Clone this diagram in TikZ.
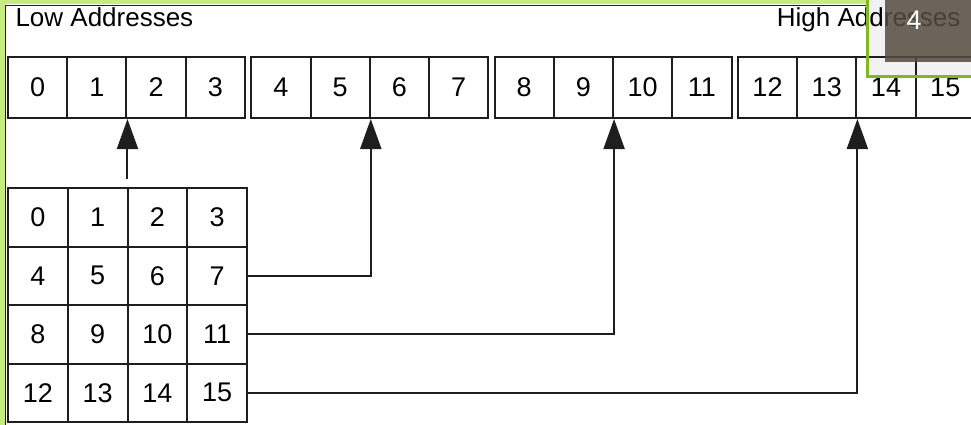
\documentclass[tikz,border=0pt]{standalone}
\usepackage{fontspec}
\setmainfont{Liberation Sans}
\usetikzlibrary{arrows.meta}
\definecolor{ink}{HTML}{1E1E1E}
\definecolor{lime}{HTML}{C6EC7E}
\definecolor{leaf}{HTML}{80B820}
\definecolor{mist}{HTML}{F2F2F2}
\definecolor{umber}{HTML}{564C3F}

\begin{document}
\begin{tikzpicture}[
  x=1pt,y=-1pt,
  font=\fontsize{27}{27}\selectfont,
  cell/.style={draw=ink,line width=2pt,minimum width=59.25pt,
               minimum height=61pt,inner sep=0pt},
  tile/.style={draw=ink,line width=2pt,minimum width=59.75pt,
               minimum height=58.5pt,inner sep=0pt},
  endlbl/.style={font=\fontsize{26}{26}\selectfont},
  ptr/.style={-{Triangle[length=30pt,width=21pt]},line width=2pt,draw=ink},
]
\useasboundingbox (0,0) rectangle (971,425);
\clip (0,0) rectangle (971,425);

% window edge
\fill[lime] (0,0) rectangle (4.5,425);
\fill[lime] (0,0) rectangle (867,4.5);
\draw[ink,line width=1.5pt] (5.5,425) -- (5.5,5.5) -- (867,5.5);
\fill[mist] (867,0) rectangle (971,77);

\node[endlbl,anchor=base west] (low) at (12,27) {Low Addresses};
\node[endlbl,anchor=base east] (high) at (964,27) {High Addresses};

% memory row: four groups of four bytes
\foreach \g in {0,...,3} {
  \foreach \c in {0,...,3} {
    \pgfmathtruncatemacro\n{4*\g+\c}
    \node[cell] (addr\n) at ({37.6+243.3*\g+59.25*\c},87.5) {\n};
  }
}

% 4x4 block, row by row
\foreach \r in {0,...,3} {
  \foreach \c in {0,...,3} {
    \pgfmathtruncatemacro\n{4*\r+\c}
    \node[tile] (blk\n) at ({37.9+59.75*\c},{217.25+58.5*\r}) {\n};
  }
}

% each row goes to the start of its group
\path (addr1.south east |- blk1.north) ++(0,-8) coordinate (stub);
\draw[ptr] (stub) -- (addr1.south east);
\draw[ptr] (blk7.east) -| (addr5.south east);
\draw[ptr] (blk11.east) -| (addr9.south east);
\draw[ptr] (blk15.east) -| (addr13.south east);

% slide counter on top
\draw[leaf,line width=3pt] (867.5,0) -- (867.5,76.5) -- (971,76.5);
\fill[umber,fill opacity=0.85] (885,0) rectangle (971,62);
\node[text=white] (page) at (914,20) {4};

\end{tikzpicture}
\end{document}
